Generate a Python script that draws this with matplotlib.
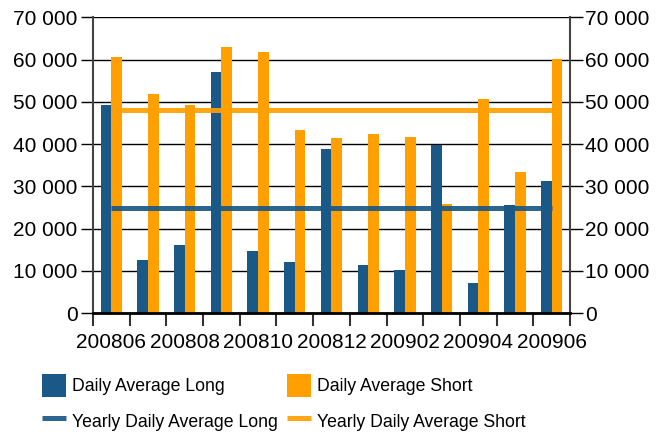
import numpy as np
import matplotlib.pyplot as plt
from matplotlib.ticker import FuncFormatter

plt.rcParams['font.family'] = ['Liberation Sans', 'DejaVu Sans']

months = ['200806', '200807', '200808', '200809', '200810', '200811', '200812',
          '200901', '200902', '200903', '200904', '200905', '200906']
daily_long = [49200, 12500, 16200, 57100, 14800, 12200, 38800,
              11400, 10300, 39800, 7200, 25500, 31400]
daily_short = [60600, 51800, 49200, 63000, 61800, 43300, 41400,
               42300, 41600, 25900, 50600, 33300, 60100]
yearly_long = 25000
yearly_short = 48000

blue = '#1a5887'
orange = '#ffa000'

fig = plt.figure(figsize=(6.61, 4.33), dpi=100)
ax = fig.add_axes([0.1407, 0.2765, 0.7216, 0.6835])

x = np.arange(len(months))
w = 0.29
b1 = ax.bar(x - w / 2, daily_long, w, color=blue, label='Daily Average Long', zorder=2)
b2 = ax.bar(x + w / 2, daily_short, w, color=orange, label='Daily Average Short', zorder=2)
l1, = ax.plot(x, [yearly_long] * len(x), color=blue, lw=3.6, alpha=0.92,
              solid_capstyle='butt', label='Yearly Daily Average Long', zorder=3)
l2, = ax.plot(x, [yearly_short] * len(x), color=orange, lw=3.6, alpha=0.92,
              solid_capstyle='butt', label='Yearly Daily Average Short', zorder=3)

ax.set_xlim(-0.5, len(months) - 0.5)
ax.set_ylim(0, 70000)
ax.set_yticks(np.arange(0, 70001, 10000))
fmt = FuncFormatter(lambda v, p: f'{v:,.0f}'.replace(',', ' '))
ax.yaxis.set_major_formatter(fmt)
ax.grid(axis='y', color='black', lw=1, zorder=1)

ax.set_xticks(x[::2])
ax.set_xticklabels(months[::2])
ax.set_xticks(np.arange(-0.5, len(months), 1), minor=True)
ax.tick_params(axis='x', which='major', length=0, labelsize=15, pad=14)
ax.tick_params(axis='x', which='minor', length=9, width=1.5, color='#333333')
ax.tick_params(axis='y', labelsize=15, length=9, width=1, left=True, right=True,
               labelleft=True, labelright=True, pad=2)

ax.spines['top'].set_visible(False)
ax.spines['bottom'].set_linewidth(2)
for s in ['left', 'right']:
    ax.spines[s].set_linewidth(1.5)
    ax.spines[s].set_color('#444444')

fig.legend([b1, l1, b2, l2],
           ['Daily Average Long', 'Yearly Daily Average Long',
            'Daily Average Short', 'Yearly Daily Average Short'],
           loc='upper left', bbox_to_anchor=(42 / 661, 1 - 374 / 433), ncol=2,
           frameon=False, fontsize=12.7, handlelength=1.36, handleheight=1.65,
           handletextpad=0.34, columnspacing=0.5, labelspacing=0.7,
           borderpad=0, borderaxespad=0)

fig.savefig('out.png', dpi=100)
